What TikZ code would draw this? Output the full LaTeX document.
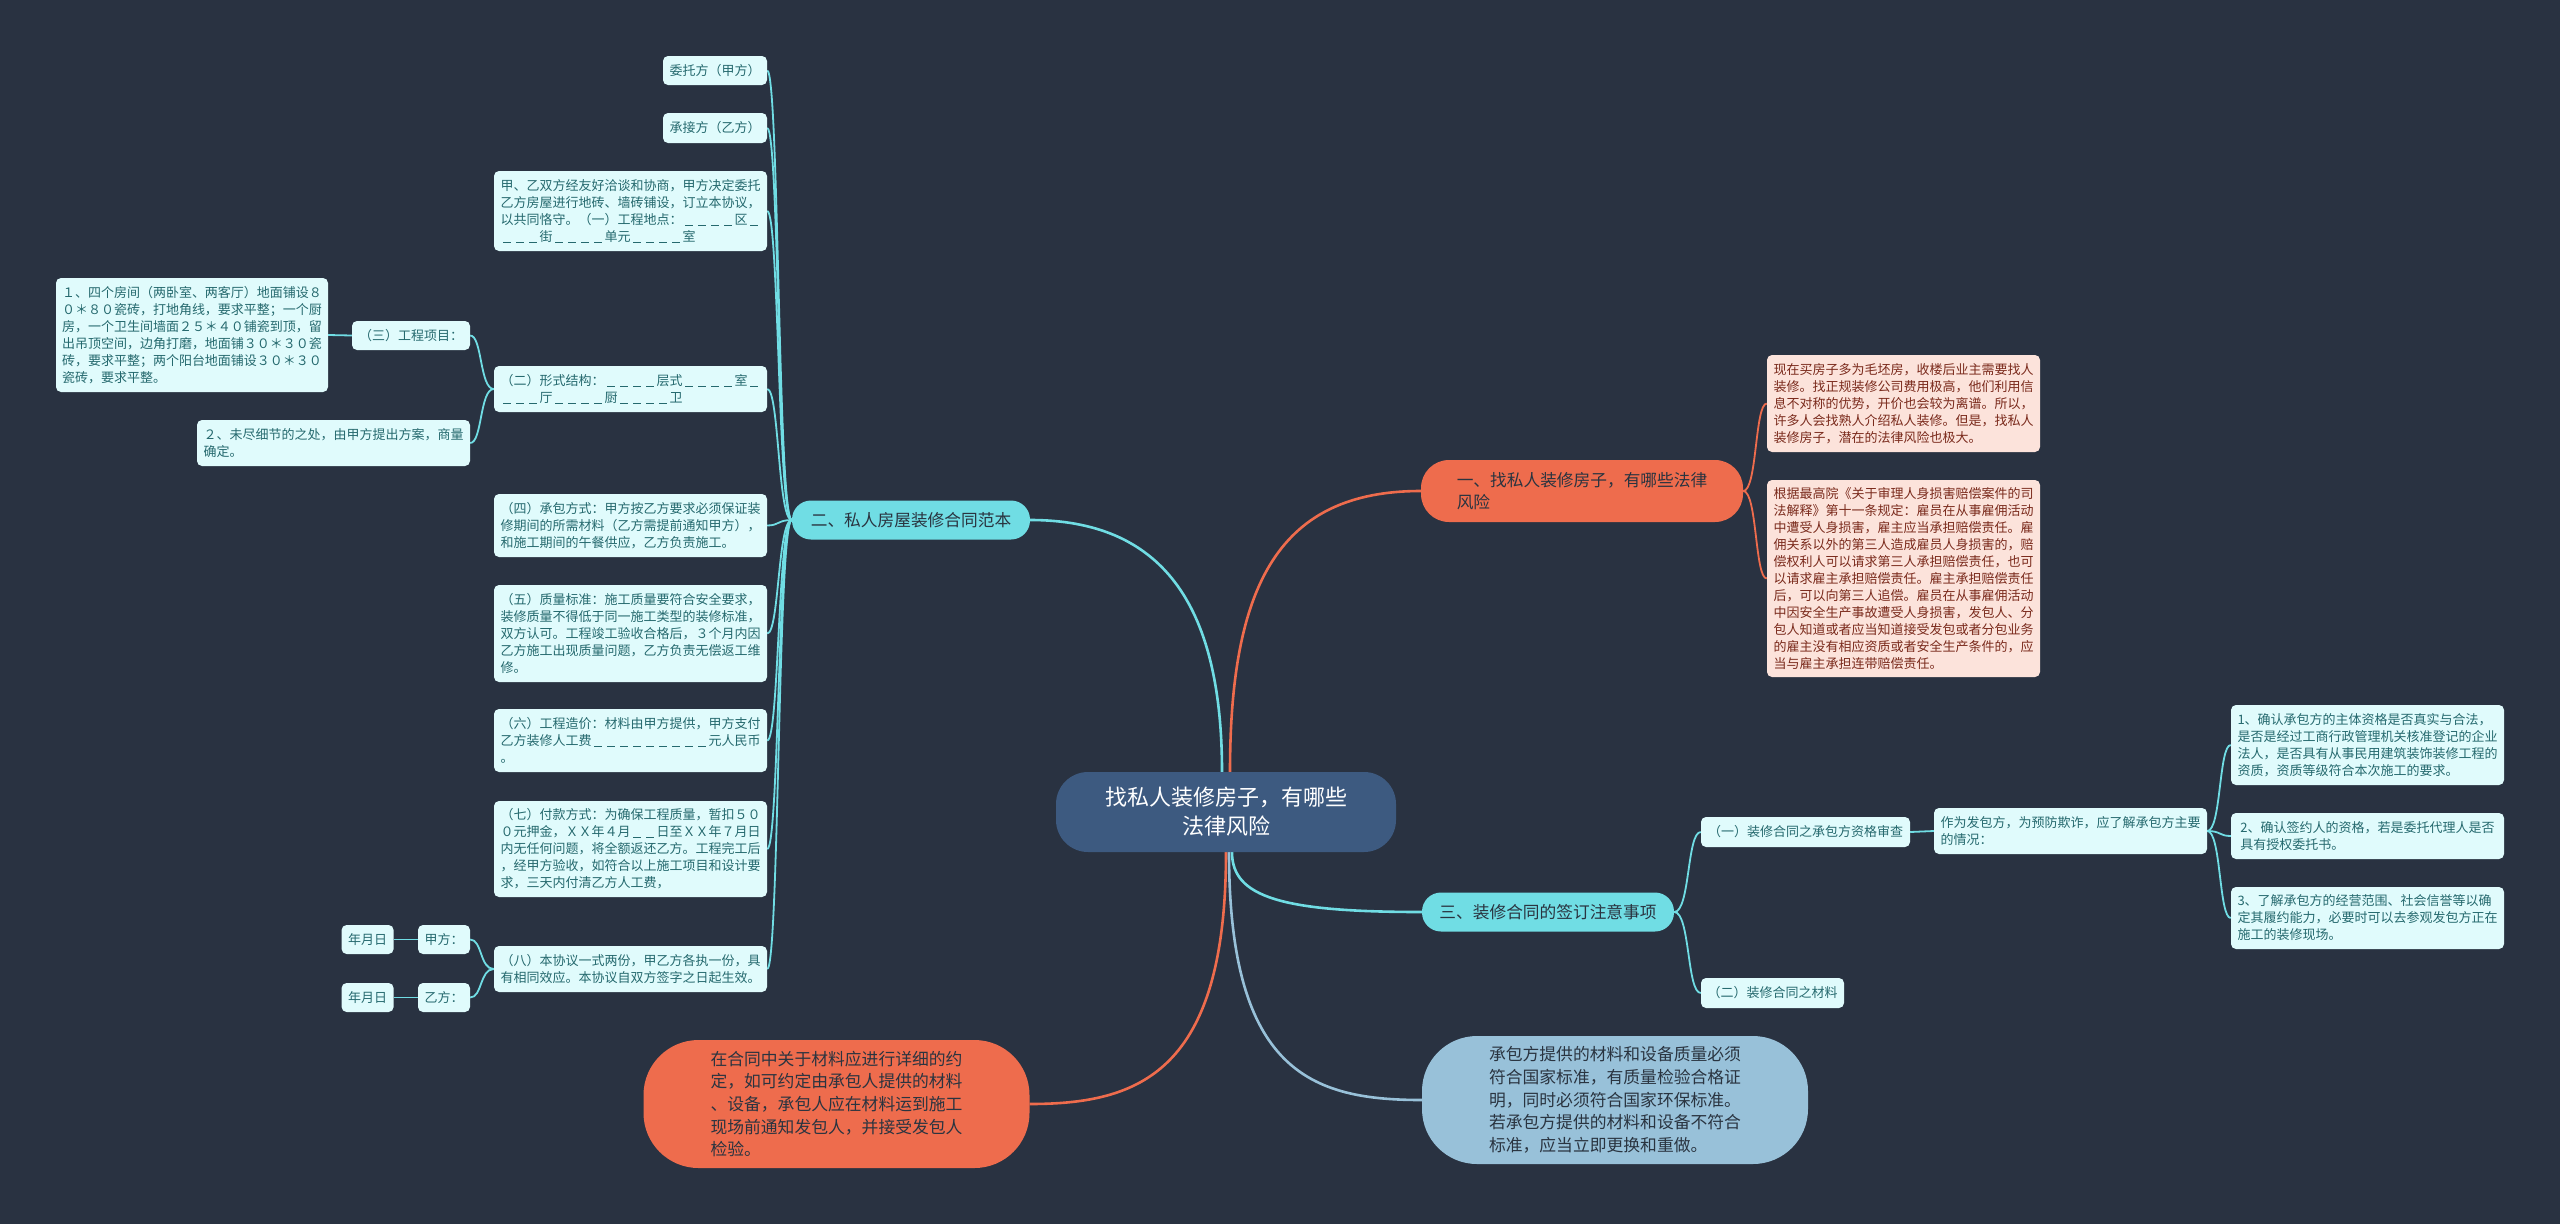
\documentclass[tikz,border=0pt]{standalone}
\usepackage{fontspec}
\setmainfont{Noto Sans CJK SC}
\usetikzlibrary{positioning,backgrounds}

\definecolor{bgcol}{HTML}{293241}
\definecolor{rootcol}{HTML}{3D5A80}
\definecolor{cyancol}{HTML}{70DDE4}
\definecolor{leafcol}{HTML}{E0FBFC}
\definecolor{leaftext}{HTML}{25696E}
\definecolor{orangecol}{HTML}{EE6C4D}
\definecolor{pinkcol}{HTML}{FCE3DB}
\definecolor{pinktext}{HTML}{7A2A1C}
\definecolor{bluecol}{HTML}{98C1D9}
\definecolor{darktext}{HTML}{2A3440}

\newcommand{\blank}{\makebox[13pt]{\rule[-1.5pt]{8pt}{0.9pt}}}

\begin{document}
\begin{tikzpicture}[
    x=1pt, y=-1pt,
    root/.style={fill=rootcol, text=white, rounded corners=32pt, align=center, font=\fontsize{22}{29}\selectfont, minimum width=340pt, minimum height=80pt},
    topic/.style={rounded corners=19pt, align=left, font=\fontsize{16.7}{22}\selectfont, text=darktext, inner sep=0pt},
    bigtopic/.style={topic, rounded corners=55pt, font=\fontsize{16.8}{22.7}\selectfont, minimum width=386pt, minimum height=128pt},
    leaf/.style={fill=leafcol, text=leaftext, rounded corners=5pt, align=left, font=\fontsize{13}{17}\selectfont, inner sep=0pt, minimum width=273pt},
    pinkleaf/.style={leaf, fill=pinkcol, text=pinktext},
    trunk/.style={line width=2.6pt},
    link/.style={line width=1.8pt, cyancol},
]
    \useasboundingbox (0,0) rectangle (2560,1224);

    \node[root] (root) at (1226,812) {找私人装修房子，有哪些\\法律风险};

    \node[topic, fill=orangecol, minimum width=322pt, minimum height=62pt, rounded corners=28pt] (risk) at (1582,491) {一、找私人装修房子，有哪些法律\\风险};
    \node[topic, fill=cyancol, minimum width=238pt, minimum height=39pt] (sample) at (911,520) {二、私人房屋装修合同范本};
    \node[topic, fill=cyancol, minimum width=252pt, minimum height=39pt] (notice) at (1548,912) {三、装修合同的签订注意事项};
    \node[bigtopic, fill=orangecol] (material) at (836.5,1104) {在合同中关于材料应进行详细的约\\定，如可约定由承包人提供的材料\\、设备，承包人应在材料运到施工\\现场前通知发包人，并接受发包人\\检验。};
    \node[bigtopic, fill=bluecol] (quality) at (1615,1100) {承包方提供的材料和设备质量必须\\符合国家标准，有质量检验合格证\\明，同时必须符合国家环保标准。\\若承包方提供的材料和设备不符合\\标准，应当立即更换和重做。};

    \node[leaf, minimum width=104pt, minimum height=29pt] (client) at (715,70.5) {委托方（甲方）};
    \node[leaf, minimum width=104pt, minimum height=30pt] (contractor) at (715,128) {承接方（乙方）};
    \node[leaf, minimum height=80pt] (preface) at (630.5,211) {甲、乙双方经友好洽谈和协商，甲方决定委托\\乙方房屋进行地砖、墙砖铺设，订立本协议，\\以共同恪守。（一）工程地点：\blank\blank\blank\blank 区\blank\\\blank\blank\blank 街\blank\blank\blank\blank 单元\blank\blank\blank\blank 室};
    \node[leaf, minimum height=46pt] (structure) at (630.5,389) {（二）形式结构：\blank\blank\blank\blank 层式\blank\blank\blank\blank 室\blank\\\blank\blank\blank 厅\blank\blank\blank\blank 厨\blank\blank\blank\blank 卫};
    \node[leaf, minimum width=118pt, minimum height=29pt] (items) at (411,335.5) {（三）工程项目：};
    \node[leaf, minimum width=272pt, minimum height=114pt] (rooms) at (192,335) {１、四个房间（两卧室、两客厅）地面铺设８\\０＊８０瓷砖，打地角线，要求平整；一个厨\\房，一个卫生间墙面２５＊４０铺瓷到顶，留\\出吊顶空间，边角打磨，地面铺３０＊３０瓷\\砖，要求平整；两个阳台地面铺设３０＊３０\\瓷砖，要求平整。};
    \node[leaf, minimum height=46pt] (details) at (333.5,443) {２、未尽细节的之处，由甲方提出方案，商量\\确定。};
    \node[leaf, minimum height=63pt] (contract) at (630.5,525.5) {（四）承包方式：甲方按乙方要求必须保证装\\修期间的所需材料（乙方需提前通知甲方），\\和施工期间的午餐供应，乙方负责施工。};
    \node[leaf, minimum height=97pt] (standard) at (630.5,633.5) {（五）质量标准：施工质量要符合安全要求，\\装修质量不得低于同一施工类型的装修标准，\\双方认可。工程竣工验收合格后，３个月内因\\乙方施工出现质量问题，乙方负责无偿返工维\\修。};
    \node[leaf, minimum height=63pt] (price) at (630.5,740.5) {（六）工程造价：材料由甲方提供，甲方支付\\乙方装修人工费\blank\blank\blank\blank\blank\blank\blank\blank\blank 元人民币\\。};
    \node[leaf, minimum height=96pt] (payment) at (630.5,849) {（七）付款方式：为确保工程质量，暂扣５０\\０元押金，ＸＸ年４月\blank\blank 日至ＸＸ年７月日\\内无任何问题，将全额返还乙方。工程完工后\\，经甲方验收，如符合以上施工项目和设计要\\求，三天内付清乙方人工费，};
    \node[leaf, minimum height=46pt] (copies) at (630.5,969) {（八）本协议一式两份，甲乙方各执一份，具\\有相同效应。本协议自双方签字之日起生效。};
    \node[leaf, minimum width=52pt, minimum height=29pt] (partya) at (444,939.5) {甲方：};
    \node[leaf, minimum width=52pt, minimum height=29pt] (partyb) at (444,997.5) {乙方：};
    \node[leaf, minimum width=52pt, minimum height=29pt, left=24pt of partya] (datea) {年月日};
    \node[leaf, minimum width=52pt, minimum height=29pt, left=24pt of partyb] (dateb) {年月日};

    \node[pinkleaf, minimum height=97pt] (market) at (1903.5,403.5) {现在买房子多为毛坯房，收楼后业主需要找人\\装修。找正规装修公司费用极高，他们利用信\\息不对称的优势，开价也会较为离谱。所以，\\许多人会找熟人介绍私人装修。但是，找私人\\装修房子，潜在的法律风险也极大。};
    \node[pinkleaf, minimum height=197pt] (law) at (1903.5,578.5) {根据最高院《关于审理人身损害赔偿案件的司\\法解释》第十一条规定：雇员在从事雇佣活动\\中遭受人身损害，雇主应当承担赔偿责任。雇\\佣关系以外的第三人造成雇员人身损害的，赔\\偿权利人可以请求第三人承担赔偿责任，也可\\以请求雇主承担赔偿责任。雇主承担赔偿责任\\后，可以向第三人追偿。雇员在从事雇佣活动\\中因安全生产事故遭受人身损害，发包人、分\\包人知道或者应当知道接受发包或者分包业务\\的雇主没有相应资质或者安全生产条件的，应\\当与雇主承担连带赔偿责任。};

    \node[leaf, minimum width=209pt, minimum height=30pt] (check) at (1805.5,832) {（一）装修合同之承包方资格审查};
    \node[leaf, minimum width=143pt, minimum height=30pt] (materials) at (1772.5,993) {（二）装修合同之材料};
    \node[leaf, minimum height=46pt] (situation) at (2070.5,831) {作为发包方，为预防欺诈，应了解承包方主要\\的情况：};
    \node[leaf, minimum height=80pt] (qualify) at (2367.5,745) {1、确认承包方的主体资格是否真实与合法，\\是否是经过工商行政管理机关核准登记的企业\\法人，是否具有从事民用建筑装饰装修工程的\\资质，资质等级符合本次施工的要求。};
    \node[leaf, minimum height=46pt] (signer) at (2367.5,836) {2、确认签约人的资格，若是委托代理人是否\\具有授权委托书。};
    \node[leaf, minimum height=62pt] (scope) at (2367.5,918) {3、了解承包方的经营范围、社会信誉等以确\\定其履约能力，必要时可以去参观发包方正在\\施工的装修现场。};

    \begin{scope}[on background layer]
        \fill[bgcol] (0,0) rectangle (2560,1224);

        \draw[trunk, orangecol] ([xshift=4pt]root.north) .. controls +(0,-190) and +(-140,0) .. (risk.west);
        \draw[trunk, cyancol] ([xshift=-4pt]root.north) .. controls +(0,-170) and +(130,0) .. (sample.east);
        \draw[trunk, cyancol] ([xshift=6pt]root.south) .. controls +(0,45) and +(-140,0) .. (notice.west);
        \draw[trunk, orangecol] (root.south) .. controls +(0,220) and +(110,0) .. (material.east);
        \draw[trunk, bluecol] ([xshift=3pt]root.south) .. controls +(0,220) and +(-110,0) .. (quality.west);

        \draw[link] (sample.west) .. controls +(-14,0) and +(12,0) .. (client.east);
        \draw[link] (sample.west) .. controls +(-14,0) and +(12,0) .. (contractor.east);
        \draw[link] (sample.west) .. controls +(-14,0) and +(12,0) .. (preface.east);
        \draw[link] (sample.west) .. controls +(-14,0) and +(12,0) .. (structure.east);
        \draw[link] (sample.west) .. controls +(-14,0) and +(12,0) .. (contract.east);
        \draw[link] (sample.west) .. controls +(-14,0) and +(12,0) .. (standard.east);
        \draw[link] (sample.west) .. controls +(-14,0) and +(12,0) .. (price.east);
        \draw[link] (sample.west) .. controls +(-14,0) and +(12,0) .. (payment.east);
        \draw[link] (sample.west) .. controls +(-14,0) and +(12,0) .. (copies.east);

        \draw[link] (structure.west) .. controls +(-14,0) and +(12,0) .. (items.east);
        \draw[link] (structure.west) .. controls +(-14,0) and +(12,0) .. (details.east);
        \draw[link] (items.west) -- (rooms.east);
        \draw[link] (copies.west) .. controls +(-14,0) and +(12,0) .. (partya.east);
        \draw[link] (copies.west) .. controls +(-14,0) and +(12,0) .. (partyb.east);
        \draw[link] (partya.west) -- (datea.east);
        \draw[link] (partyb.west) -- (dateb.east);

        \draw[link, orangecol] (risk.east) .. controls +(14,0) and +(-12,0) .. (market.west);
        \draw[link, orangecol] (risk.east) .. controls +(14,0) and +(-12,0) .. (law.west);

        \draw[link] (notice.east) .. controls +(16,0) and +(-14,0) .. (check.west);
        \draw[link] (notice.east) .. controls +(16,0) and +(-14,0) .. (materials.west);
        \draw[link] (check.east) -- (situation.west);
        \draw[link] (situation.east) .. controls +(14,0) and +(-12,0) .. (qualify.west);
        \draw[link] (situation.east) .. controls +(14,0) and +(-12,0) .. (signer.west);
        \draw[link] (situation.east) .. controls +(14,0) and +(-12,0) .. (scope.west);
    \end{scope}
\end{tikzpicture}
\end{document}
